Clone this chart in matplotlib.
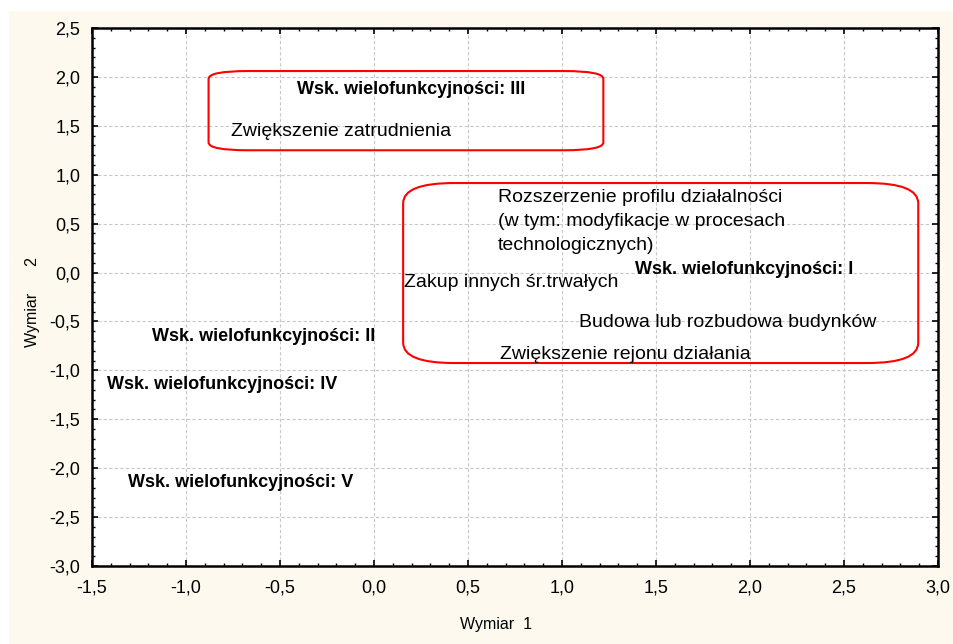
import matplotlib
matplotlib.use('Agg')
import matplotlib.pyplot as plt
from matplotlib.patches import FancyBboxPatch, Rectangle
from matplotlib.ticker import MultipleLocator, FuncFormatter

plt.rcParams['font.family'] = ['Liberation Sans', 'DejaVu Sans']

# Label positions (Wymiar 1, Wymiar 2)
labels = [
    'Wsk. wielofunkcyjności: III',
    'Zwiększenie zatrudnienia',
    'Rozszerzenie profilu działalności\n(w tym: modyfikacje w procesach\ntechnologicznych)',
    'Wsk. wielofunkcyjności: I',
    'Zakup innych śr.trwałych',
    'Budowa lub rozbudowa budynków',
    'Zwiększenie rejonu działania',
    'Wsk. wielofunkcyjności: II',
    'Wsk. wielofunkcyjności: IV',
    'Wsk. wielofunkcyjności: V',
]
dim1 = [-0.41, -0.76, 0.66, 1.39, 0.16, 1.09, 0.67, -1.18, -1.42, -1.31]
dim2 = [1.87, 1.44, 0.52, 0.03, -0.10, -0.51, -0.84, -0.65, -1.14, -2.15]
bold = [True, False, False, True, False, False, False, True, True, True]

cream = '#fdf9ee'

fig = plt.figure(figsize=(9.54, 6.44), dpi=100, facecolor='white')
fig.patches.append(Rectangle((9 / 954, 0), 1, (644 - 11) / 644, transform=fig.transFigure,
                             facecolor=cream, edgecolor='none', zorder=-10))
ax = fig.add_axes([92 / 954, 78 / 644, 846 / 954, 538 / 644])
ax.set_facecolor('white')

ax.set_xlim(-1.5, 3.0)
ax.set_ylim(-3.0, 2.5)
ax.xaxis.set_major_locator(MultipleLocator(0.5))
ax.yaxis.set_major_locator(MultipleLocator(0.5))
ax.xaxis.set_minor_locator(MultipleLocator(0.1))
ax.yaxis.set_minor_locator(MultipleLocator(0.1))
fmt = FuncFormatter(lambda v, p: ('%.1f' % v).replace('.', ','))
ax.xaxis.set_major_formatter(fmt)
ax.yaxis.set_major_formatter(fmt)
ax.tick_params(which='both', direction='in', top=True, right=True, labelsize=13, color='black')
ax.tick_params(which='major', length=4, width=1.2)
ax.tick_params(which='minor', length=2.5, width=1)
ax.tick_params(axis='x', which='major', pad=10)
ax.tick_params(axis='y', which='major', pad=8.5)
for s in ax.spines.values():
    s.set_linewidth(1.8)
ax.grid(True, which='major', linestyle=(0, (3, 2)), color='#c8c8c8', linewidth=0.8)
ax.set_axisbelow(True)

for t, x, y, b in zip(labels, dim1, dim2, bold):
    ax.text(x, y, t, fontsize=13 if b else 14, fontweight='bold' if b else 'normal',
            ha='left', va='center', linespacing=1.53)

# red rounded frames around groups
box1 = FancyBboxPatch((-0.88, 1.25), 2.10, 0.81, boxstyle='round,pad=0,rounding_size=0.21',
                      mutation_aspect=0.38, facecolor='none', edgecolor='red', linewidth=1.5)
box2 = FancyBboxPatch((0.155, -0.925), 2.74, 1.84, boxstyle='round,pad=0,rounding_size=0.27',
                      mutation_aspect=0.77, facecolor='none', edgecolor='red', linewidth=1.5)
ax.add_patch(box1)
ax.add_patch(box2)

ax.set_xlabel('Wymiar  1', fontsize=11.5)
ax.set_ylabel('Wymiar      2', fontsize=11.5)
ax.xaxis.set_label_coords((496 - 92) / 846, -0.095)
ax.yaxis.set_label_coords((40 - 92) / 846, 0.49)

fig.savefig('out.png', dpi=100, facecolor=fig.get_facecolor())
